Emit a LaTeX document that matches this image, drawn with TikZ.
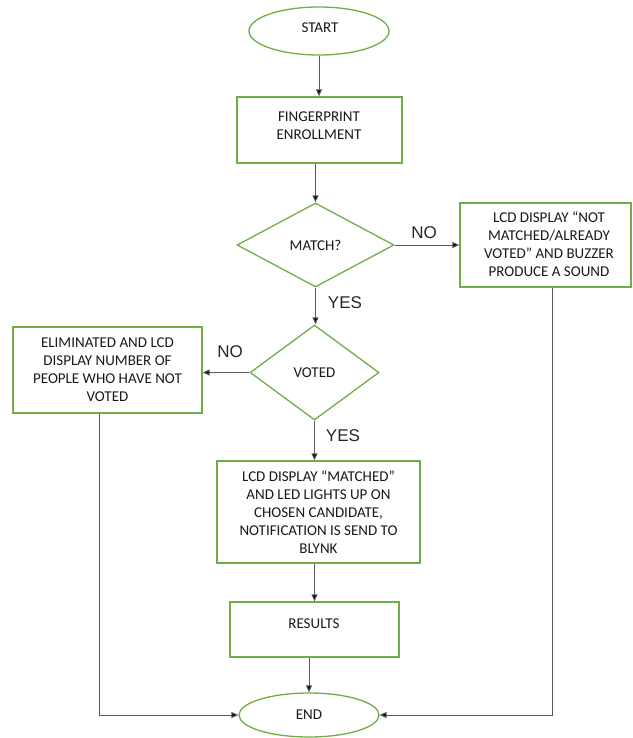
\documentclass[tikz,border=0pt]{standalone}
\usepackage{fontspec}
\setmainfont{Carlito}
\newfontfamily\labfont{Liberation Sans}
\usetikzlibrary{shapes.geometric,arrows.meta}
\definecolor{okgreen}{RGB}{112,173,71}
\definecolor{linegray}{RGB}{90,90,90}
\definecolor{txtcol}{RGB}{25,25,25}
\begin{document}
\begin{tikzpicture}[x=1pt,y=1pt,
 box/.style={draw=okgreen,line width=1.3pt,rectangle,inner sep=0pt},
 term/.style={draw=okgreen,line width=1.3pt,ellipse,inner sep=0pt},
 dec/.style={draw=okgreen,line width=1.3pt,diamond,inner sep=0pt},
 txt/.style={text=txtcol,font=\fontsize{15}{18}\selectfont,align=center},
 lab/.style={text=black!85,font=\labfont\fontsize{17}{20}\selectfont,inner sep=0pt},
 conn/.style={draw=linegray,line width=1pt,-{Triangle[length=7pt,width=6pt,fill=black]}}
]
\useasboundingbox (0,0) rectangle (632,-738);

% nodes
\node[term,minimum width=140,minimum height=48] (start) at (319,-31) {};
\node[txt,inner sep=0pt] (startt) at (320,-28) {START};
\node[box,minimum width=165,minimum height=66] (fp) at (319.5,-130) {};
\node[txt,inner sep=0pt] (fpt) at (319,-125.5) {FINGERPRINT\\ENROLLMENT};
\node[dec,txt,minimum width=157,minimum height=84] (match) at (315.5,-245) {MATCH?};
\node[box,minimum width=171,minimum height=84] (notm) at (545.5,-245) {};
\node[txt,inner sep=0pt] (notmt) at (549,-244) {LCD DISPLAY “NOT\\MATCHED/ALREADY\\VOTED” AND BUZZER\\PRODUCE A SOUND};
\node[dec,txt,minimum width=129,minimum height=95] (voted) at (314.5,-372.5) {VOTED};
\node[box,txt,minimum width=189,minimum height=86] (elim) at (107.5,-370) {ELIMINATED AND LCD\\DISPLAY NUMBER OF\\PEOPLE WHO HAVE NOT\\VOTED};
\node[box,txt,minimum width=203,minimum height=102] (lcd) at (318.5,-512) {LCD DISPLAY “MATCHED”\\AND LED LIGHTS UP ON\\CHOSEN CANDIDATE,\\NOTIFICATION IS SEND TO\\BLYNK};
\node[box,minimum width=169,minimum height=55] (res) at (314.5,-629.5) {};
\node[txt,inner sep=0pt] (rest) at (314,-624) {RESULTS};
\node[term,txt,minimum width=140,minimum height=44] (end) at (309,-715) {END};

% labels
\node[lab] (no1) at (424,-233) {NO};
\node[lab] (yes1) at (345,-303) {YES};
\node[lab] (no2) at (230,-352) {NO};
\node[lab] (yes2) at (343,-436) {YES};

% connectors
\coordinate (lx) at (99,-716);
\coordinate (rx) at (552,-716);
\draw[conn] (start.south) -- (start.south |- fp.north);
\draw[conn] (fp.south -| match.north) -- (match.north);
\draw[conn] (match.east) -- (match.east -| notm.west);
\draw[conn] (match.south) -- (match.south |- voted.north);
\draw[conn] (voted.west) -- (voted.west -| elim.east);
\draw[conn] (voted.south) -- (voted.south |- lcd.north);
\draw[conn] (lcd.south -| res.north) -- (res.north);
\draw[conn] (res.south -| end.north) -- (end.north);
\draw[conn] (elim.south -| lx) |- (end.west);
\draw[conn] (notm.south -| rx) |- (end.east);
\end{tikzpicture}
\end{document}
